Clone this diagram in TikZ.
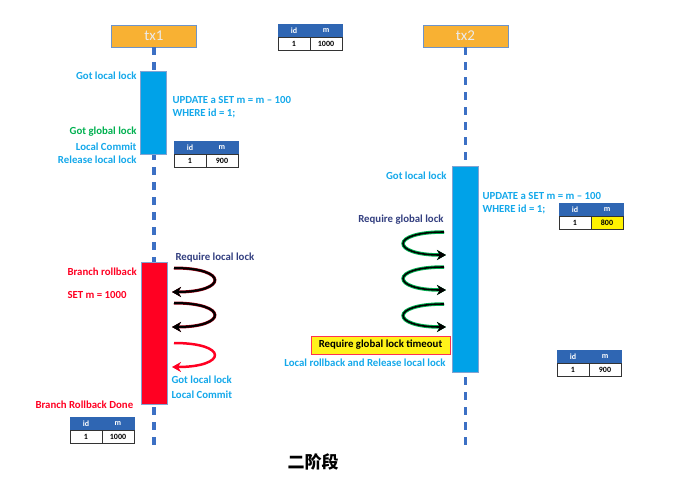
\documentclass[tikz,border=0pt]{standalone}
\usepackage{fontspec}
\setmainfont{Carlito}
\newfontfamily\cjk{Noto Sans CJK SC}
\usetikzlibrary{arrows.meta}
\definecolor{barblue}{HTML}{00A2E8}
\definecolor{lblblue}{HTML}{14A8EA}
\definecolor{lifeblue}{HTML}{3C70C4}
\definecolor{hdrblue}{HTML}{2F66B3}
\definecolor{headorange}{HTML}{F8B133}
\definecolor{okgreen}{HTML}{00B050}
\definecolor{rbred}{HTML}{FF0022}
\definecolor{navy}{HTML}{333F80}

\newcommand{\idtable}[5]{% name, x, y, m value, m fill
  \node[hcell] (#1id) at (#2+16,#3+6.5) {id};
  \node[hcell] (#1m) at (#2+48,#3+6.5) {m};
  \node[vcell] (#1one) at (#2+16,#3+19.5) {1};
  \node[vcell, fill=#5] (#1val) at (#2+48,#3+19.5) {#4};
}

\begin{document}
\begin{tikzpicture}[x=1pt, y=-1pt, font=\fontsize{10.8}{13}\selectfont\bfseries]
\tikzstyle{head} = [rectangle, draw=hdrblue!70, fill=headorange, minimum width=85pt, minimum height=22pt, text=white!92!black, font=\fontsize{15}{16}\selectfont]
\tikzstyle{bar} = [rectangle, draw=hdrblue!60, minimum width=26pt, inner sep=0pt]
\tikzstyle{life} = [lifeblue, line width=3.5pt, dash pattern=on 8pt off 7pt]
\tikzstyle{hcell} = [rectangle, draw=hdrblue, fill=hdrblue, text=white, minimum width=32pt, minimum height=13pt, inner sep=0pt, font=\fontsize{8}{9}\selectfont\bfseries]
\tikzstyle{vcell} = [rectangle, draw=black!80, line width=0.8pt, minimum width=32pt, minimum height=13pt, inner sep=0pt, font=\fontsize{8}{9}\selectfont\bfseries]
\tikzstyle{loop} = [line width=2pt, -{Stealth[length=9pt, width=10pt]}]
\useasboundingbox (0,0) rectangle (677,501);

\node[head] (tx1) at (154,36) {tx1};
\node[head] (tx2) at (465.5,36) {tx2};
\coordinate (end1) at (154,446);
\coordinate (end2) at (465.5,446);
\draw[life] (tx1.south) -- (end1);
\draw[life] (tx2.south) -- (end2);

\idtable{t0}{278}{24}{1000}{white}

% tx1, phase one
\node[bar, fill=barblue, minimum height=83pt] (bar1) at (153.5,113) {};
\node[anchor=east, text=lblblue] (gotl1) at (140,76) {Got local lock};
\node[anchor=west, text=lblblue, align=left] (upd1) at (169,107.5) {UPDATE a SET m = m -- 100\\WHERE id = 1;};
\node[anchor=east, text=okgreen] (gotg1) at (140,132) {Got global lock};
\node[anchor=east, text=lblblue] (lc1) at (140,147) {Local Commit};
\node[anchor=east, text=lblblue] (rel1) at (140,160) {Release local lock};
\idtable{t1}{174}{141}{900}{white}

% tx1, branch rollback
\node[bar, fill=rbred, minimum height=142pt] (bar3) at (154,333) {};
\node[anchor=west, text=rbred] (brb) at (64,272) {Branch rollback};
\node[anchor=west, text=rbred] (setm) at (64,295) {SET m = 1000};
\node[anchor=west, text=navy] (req1) at (172,258) {Require local lock};
\coordinate (a1) at (174,268);
\coordinate (b1) at (172,292);
\coordinate (a2) at (174,303);
\coordinate (b2) at (172,327);
\coordinate (a3) at (174,343);
\coordinate (b3) at (172,367);
\draw[loop, rbred!60!black, line width=3pt] (a1) .. controls +(55,0) and +(55,0) .. (b1);
\draw[loop, black] (a1) .. controls +(55,0) and +(55,0) .. (b1);
\draw[loop, rbred!60!black, line width=3pt] (a2) .. controls +(55,0) and +(55,0) .. (b2);
\draw[loop, black] (a2) .. controls +(55,0) and +(55,0) .. (b2);
\draw[loop, rbred, line width=2.5pt] (a3) .. controls +(55,0) and +(55,0) .. (b3);
\node[anchor=west, text=lblblue] (gotl3) at (168,380) {Got local lock};
\node[anchor=west, text=lblblue] (lc3) at (168,395) {Local Commit};
\node[anchor=west, text=rbred] (done) at (32,405) {Branch Rollback Done};
\idtable{t3}{70}{417}{1000}{white}

% tx2
\node[bar, fill=barblue, minimum height=206pt] (bar2) at (465.5,269) {};
\node[anchor=east, text=lblblue] (gotl2) at (450,176) {Got local lock};
\node[anchor=west, text=lblblue, align=left] (upd2) at (479,203) {UPDATE a SET m = m -- 100\\WHERE id = 1;};
\idtable{t2}{559}{203}{800}{yellow}
\node[anchor=east, text=navy] (reqg) at (447,220) {Require global lock};
\coordinate (c1) at (444,232);
\coordinate (d1) at (446,255);
\coordinate (c2) at (444,267);
\coordinate (d2) at (446,290);
\coordinate (c3) at (444,304);
\coordinate (d3) at (446,327);
\foreach \s/\e in {c1/d1, c2/d2, c3/d3} {
  \draw[loop, okgreen, line width=3.5pt] (\s) .. controls +(-55,0) and +(-55,0) .. (\e);
  \draw[loop, black, line width=1.6pt] (\s) .. controls +(-55,0) and +(-55,0) .. (\e);
}
\node[rectangle, draw=rbred!80, line width=1pt, fill=yellow!90!white, minimum width=139pt, minimum height=18pt, inner sep=2pt] (tmo) at (380.5,345) {Require global lock timeout};
\node[anchor=east, text=lblblue] (lrb) at (449,363) {Local rollback and Release local lock};
\idtable{t4}{557}{350}{900}{white}

\node[font=\cjk\fontsize{17}{18}\selectfont\bfseries] (title) at (313,462) {二阶段};
\end{tikzpicture}
\end{document}
